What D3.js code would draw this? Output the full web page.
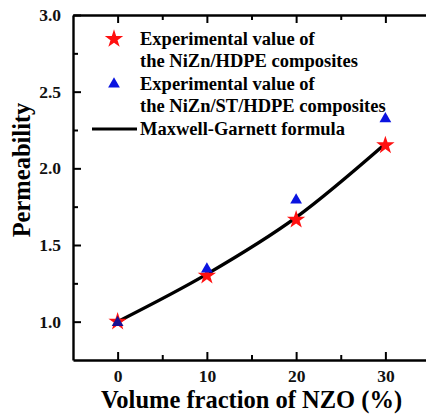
<!DOCTYPE html>
<html>
<head>
<meta charset="utf-8">
<script src="https://cdn.jsdelivr.net/npm/d3@7"></script>
<style>
  body { margin: 0; background: #fff; }
  text { font-family: "Liberation Serif", "Times New Roman", serif; font-weight: bold; }
</style>
</head>
<body>
<svg id="chart" width="426" height="414"></svg>
<script>
// data
var fraction = [0, 10, 20, 30];
var hdpeValues = [1.00, 1.30, 1.665, 2.15];
var stValues = [1.00, 1.35, 1.80, 2.33];
var mgValues = [1.00, 1.31, 1.68, 2.16];
var xTicks = [0, 10, 20, 30];
var yTicks = [1.0, 1.5, 2.0, 2.5, 3.0];

var margin = { top: 15, right: 0, bottom: 54, left: 73 },
    width = 357,
    height = 414 - margin.top - margin.bottom;

var svg = d3.select("#chart");
var g = svg.append("g")
    .attr("transform", "translate(" + margin.left + "," + margin.top + ")");

var x = d3.scaleLinear().domain([-5, 35]).range([0, width]);
var y = d3.scaleLinear().domain([0.75, 3.0]).range([height, 0]);

// frame axes: ticks point inward
function styleAxis(sel) {
    sel.select(".domain").attr("stroke-width", 2.4);
    sel.selectAll(".tick line").attr("stroke-width", 2);
    sel.selectAll("text").style("font-size", "17.5px").attr("fill", "#111");
}
function minorAxis(sel) {
    sel.select(".domain").remove();
    sel.selectAll(".tick line").attr("stroke-width", 2);
}

g.append("g")
    .attr("transform", "translate(0," + height + ")")
    .call(d3.axisBottom(x).tickValues(xTicks).tickSize(-8).tickSizeOuter(0).tickPadding(10).tickFormat(d3.format("d")))
    .call(styleAxis);
g.append("g")
    .attr("transform", "translate(0," + height + ")")
    .call(d3.axisBottom(x).tickValues([5, 15, 25]).tickSize(-5).tickSizeOuter(0).tickFormat(""))
    .call(minorAxis);

g.append("g")
    .call(d3.axisTop(x).tickValues(xTicks).tickSize(-8).tickSizeOuter(0).tickFormat(""))
    .call(styleAxis);
g.append("g")
    .call(d3.axisTop(x).tickValues([5, 15, 25]).tickSize(-5).tickSizeOuter(0).tickFormat(""))
    .call(minorAxis);

g.append("g")
    .call(d3.axisLeft(y).tickValues(yTicks).tickSize(-8).tickSizeOuter(0).tickPadding(12).tickFormat(d3.format(".1f")))
    .call(styleAxis);
g.append("g")
    .call(d3.axisLeft(y).tickValues([1.25, 1.75, 2.25, 2.75]).tickSize(-5).tickSizeOuter(0).tickFormat(""))
    .call(minorAxis);

// Maxwell-Garnett curve
var line = d3.line()
    .x(function(d, i) { return x(fraction[i]); })
    .y(function(d) { return y(d); })
    .curve(d3.curveMonotoneX);

g.append("path")
    .datum(mgValues)
    .attr("d", line)
    .attr("fill", "none")
    .attr("stroke", "#000")
    .attr("stroke-width", 3.4);

var star = d3.symbol().type(d3.symbolStar).size(105);
var tri = d3.symbol().type(d3.symbolTriangle).size(60);

g.selectAll(".star")
    .data(hdpeValues)
    .enter().append("path")
    .attr("class", "star")
    .attr("d", star)
    .attr("transform", function(d, i) { return "translate(" + x(fraction[i]) + "," + y(d) + ")"; })
    .attr("fill", "#ff1010");

g.selectAll(".tri")
    .data(stValues)
    .enter().append("path")
    .attr("class", "tri")
    .attr("d", tri)
    .attr("transform", function(d, i) { return "translate(" + x(fraction[i]) + "," + (y(d) + 1) + ")"; })
    .attr("fill", function(d, i) { return i === 0 ? "#1a1090" : "#0a14e0"; });

// legend
var legend = svg.append("g").style("font-size", "18.5px");
legend.append("path").attr("d", star).attr("transform", "translate(114,39)").attr("fill", "#ff1010");
legend.append("text").attr("x", 140).attr("y", 45).text("Experimental value of");
legend.append("text").attr("x", 140).attr("y", 67).text("the NiZn/HDPE composites");
legend.append("path").attr("d", tri).attr("transform", "translate(114,84)").attr("fill", "#0a14e0");
legend.append("text").attr("x", 140).attr("y", 90).text("Experimental value of");
legend.append("text").attr("x", 140).attr("y", 112).text("the NiZn/ST/HDPE composites");
legend.append("line").attr("x1", 92).attr("x2", 137).attr("y1", 129).attr("y2", 129)
    .attr("stroke", "#000").attr("stroke-width", 3);
legend.append("text").attr("x", 140).attr("y", 135).text("Maxwell-Garnett formula");

// axis titles
svg.append("text")
    .attr("x", margin.left + x(15))
    .attr("y", 408)
    .attr("text-anchor", "middle")
    .style("font-size", "24.5px")
    .text("Volume fraction of NZO (%)");

svg.append("text")
    .attr("transform", "translate(30,170) rotate(-90)")
    .attr("text-anchor", "middle")
    .style("font-size", "24.5px")
    .text("Permeability");
</script>
</body>
</html>
